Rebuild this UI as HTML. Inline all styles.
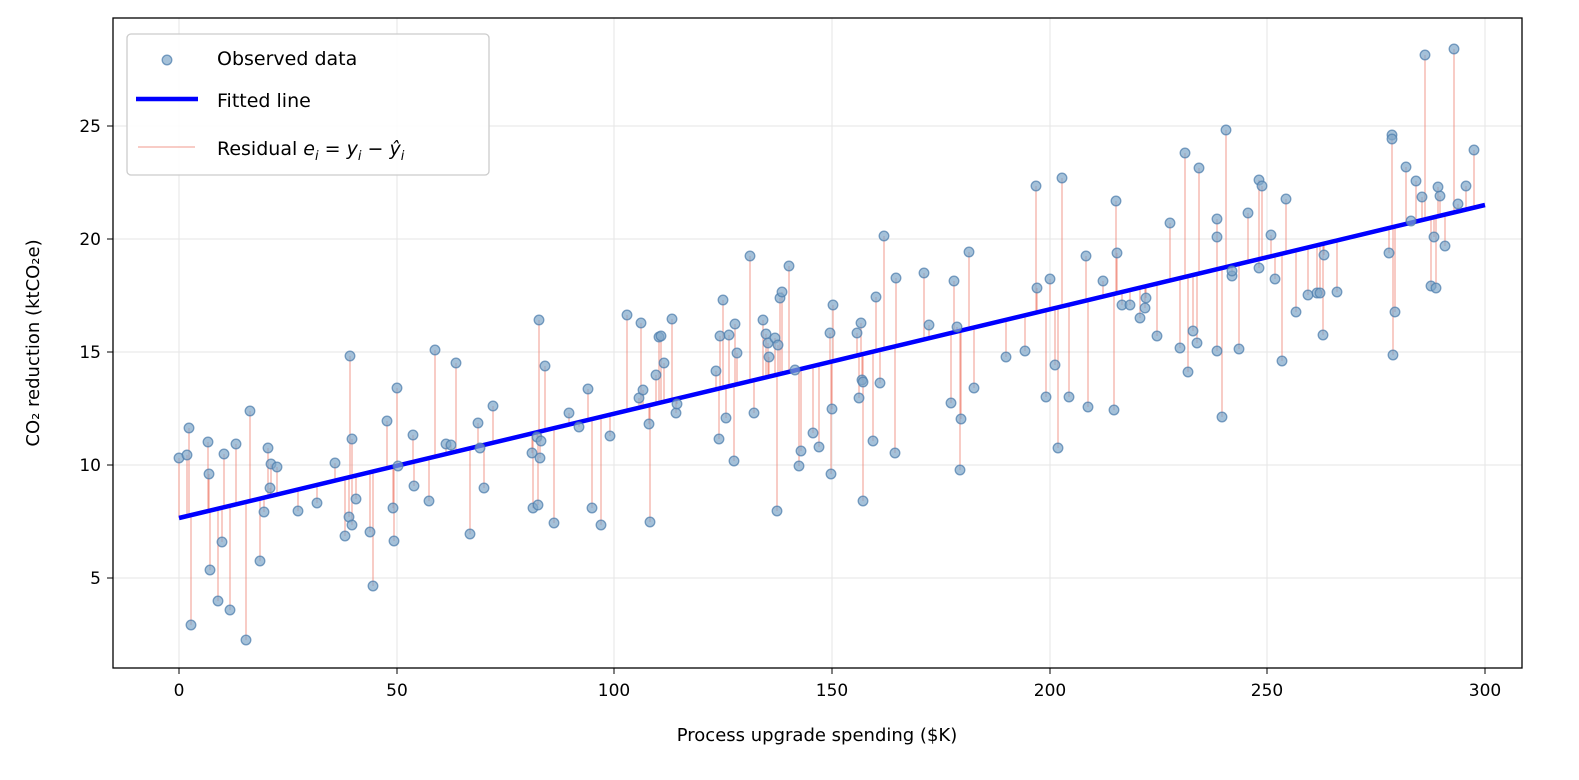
<!DOCTYPE html>
<html><head><meta charset="utf-8"><style>
body{margin:0;background:#fff;}
svg{display:block;font-family:"DejaVu Sans","Liberation Sans",sans-serif;}
</style></head><body>
<svg id="s" width="1579" height="780" xmlns="http://www.w3.org/2000/svg">
<rect width="1579" height="780" fill="#fff"/>
<g id="grid" stroke="#e6e6e6" stroke-width="1"></g>
<g id="res" stroke="#f08070" stroke-width="1" opacity="0.8"></g>
<line x1="179" y1="518" x2="1485" y2="205" stroke="#0000ff" stroke-width="4.5"/>
<g id="pts" fill="#7fa6c9" stroke="#4f7fae" stroke-width="1.3" fill-opacity="0.7" stroke-opacity="0.75"></g>
<rect x="113" y="18" width="1409" height="650" fill="none" stroke="#000" stroke-width="1.3"/>
<g id="ticks" font-size="17" fill="#000"></g>
<text x="817" y="741" font-size="18" text-anchor="middle">Process upgrade spending ($K)</text>
<text transform="translate(39,343) rotate(-90)" font-size="18" text-anchor="middle">CO₂ reduction (ktCO₂e)</text>
<g>
<rect x="127" y="34" width="362" height="141" rx="4" fill="#fff" fill-opacity="0.85" stroke="#ccc" stroke-width="1.3"/>
<circle cx="167" cy="60" r="4.8" fill="#7fa6c9" stroke="#4f7fae" stroke-width="1.3" fill-opacity="0.7" stroke-opacity="0.75"/>
<line x1="136" y1="99" x2="198" y2="99" stroke="#0000ff" stroke-width="4.5"/>
<line x1="138" y1="147" x2="195" y2="147" stroke="#f08070" stroke-width="1" opacity="0.8"/>
<text x="217" y="65" font-size="19">Observed data</text>
<text x="217" y="107" font-size="19">Fitted line</text>
<text x="217" y="155" font-size="19">Residual <tspan font-style="italic">e<tspan font-size="13" dy="5">i</tspan></tspan><tspan dy="-5"> = </tspan><tspan font-style="italic">y<tspan font-size="13" dy="5">i</tspan></tspan><tspan dy="-5"> − </tspan><tspan font-style="italic">ŷ<tspan font-size="13" dy="5">i</tspan></tspan></text>
</g>
</svg>
<script>
var NS="http://www.w3.org/2000/svg";
function el(p,t,a,txt){var e=document.createElementNS(NS,t);for(var k in a)e.setAttribute(k,a[k]);if(txt)e.textContent=txt;document.getElementById(p).appendChild(e);return e;}
var xs=[179,397,614,832,1050,1267,1485],xl=[0,50,100,150,200,250,300];
var ys=[578,465,352,239,126],yl=[5,10,15,20,25];
xs.forEach(function(x,i){el("grid","line",{x1:x,y1:18,x2:x,y2:668});el("ticks","line",{x1:x,y1:668,x2:x,y2:674,stroke:"#000"});el("ticks","text",{x:x,y:696,"text-anchor":"middle"},""+xl[i]);});
ys.forEach(function(y,i){el("grid","line",{x1:113,y1:y,x2:1522,y2:y});el("ticks","line",{x1:107,y1:y,x2:113,y2:y,stroke:"#000"});el("ticks","text",{x:101,y:y+6,"text-anchor":"end"},""+yl[i]);});
var P=[179,458,187,455,189,428,191,625,208,442,209,474,210,570,218,601,222,542,224,454,230,610,236,444,246,640,250,411,260,561,264,512,268,448,270,488,271,464,277,467,298,511,317,503,335,463,345,536,349,517,350,356,352,439,352,525,356,499,370,532,373,586,387,421,393,508,394,541,397,388,398,466,413,435,414,486,429,501,435,350,446,444,451,445,456,363,470,534,478,423,480,448,484,488,493,406,532,453,533,508,537,437,538,505,539,320,540,458,541,441,545,366,554,523,569,413,579,427,588,389,592,508,601,525,610,436,627,315,639,398,641,323,643,390,649,424,650,522,656,375,659,337,661,336,664,363,672,319,676,413,677,404,716,371,719,439,720,336,723,300,726,418,729,335,734,461,735,324,737,353,750,256,754,413,763,320,766,334,768,343,769,357,775,338,777,511,778,345,780,298,782,292,789,266,795,370,799,466,801,451,813,433,819,447,830,333,831,474,832,409,833,305,857,333,859,398,861,323,862,380,863,382,863,501,873,441,876,297,880,383,884,236,895,453,896,278,924,273,929,325,951,403,954,281,957,327,960,470,961,419,969,252,974,388,1006,357,1025,351,1036,186,1037,288,1046,397,1050,279,1055,365,1058,448,1062,178,1069,397,1086,256,1088,407,1103,281,1114,410,1116,201,1117,253,1122,305,1130,305,1140,318,1145,308,1146,298,1157,336,1170,223,1180,348,1185,153,1188,372,1193,331,1197,343,1199,168,1217,219,1217,237,1217,351,1222,417,1226,130,1232,276,1232,271,1239,349,1248,213,1259,180,1259,268,1262,186,1271,235,1275,279,1282,361,1286,199,1296,312,1308,295,1317,293,1320,293,1323,335,1324,255,1337,292,1389,253,1392,135,1392,139,1393,355,1395,312,1406,167,1411,221,1416,181,1422,197,1431,286,1434,237,1436,288,1440,196,1445,246,1425,55,1454,49,1438,187,1466,186,1458,204,1474,150];
for(var i=0;i<P.length;i+=2){var x=P[i],y=P[i+1],f=518-(x-179)*0.2397;el("res","line",{x1:x,y1:y,x2:x,y2:f});el("pts","circle",{cx:x,cy:y,r:4.8});}
</script>
</body></html>
